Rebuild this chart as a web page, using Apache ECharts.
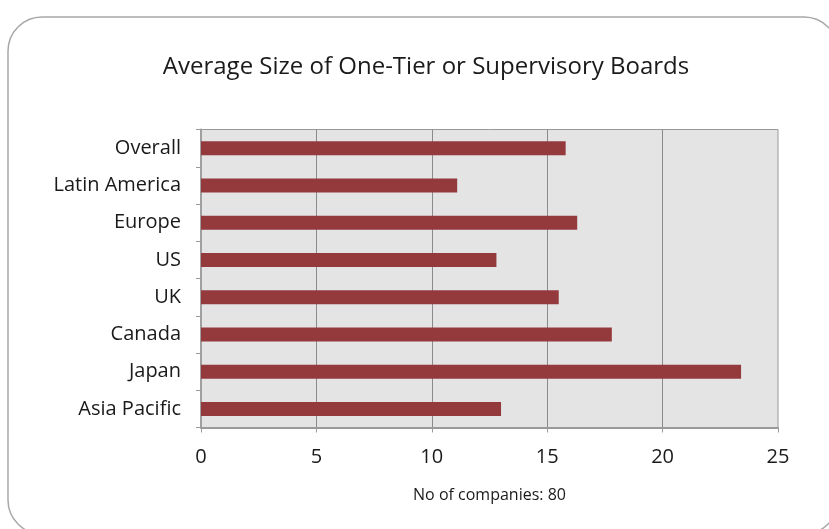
<!DOCTYPE html>
<html>
<head>
<meta charset="utf-8">
<script src="https://cdn.jsdelivr.net/npm/echarts@6/dist/echarts.min.js"></script>
<style>
  html, body { margin: 0; padding: 0; background: #ffffff; }
  #chart { width: 829px; height: 529px; }
</style>
</head>
<body>
<div id="chart"></div>
<script>
// Regions, listed top to bottom
const regions = ['Overall', 'Latin America', 'Europe', 'US', 'UK', 'Canada', 'Japan', 'Asia Pacific'];
// Average number of board members per region
const boardSize = [15.8, 11.1, 16.3, 12.8, 15.5, 17.8, 23.4, 13.0];
// Value axis scale
const axisMin = 0;
const axisMax = 25;
const axisStep = 5;

const chart = echarts.init(document.getElementById('chart'), null, { renderer: 'canvas' });

const labelFont = '"Open Sans", "DejaVu Sans", sans-serif';

chart.setOption({
  backgroundColor: '#ffffff',
  animation: false,
  title: {
    text: 'Average Size of One-Tier or Supervisory Boards',
    left: 421,
    top: 50,
    textAlign: 'center',
    textStyle: {
      fontFamily: labelFont,
      fontWeight: 'normal',
      fontSize: 24,
      color: '#1a1a1a'
    }
  },
  graphic: [{
    type: 'rect',
    shape: { x: 8, y: 17, width: 830, height: 517, r: 34 },
    style: { fill: 'none', stroke: '#a8a8a8', lineWidth: 1.5 },
    z: -1
  }],
  grid: {
    left: 201,
    right: 51,
    top: 129.5,
    bottom: 101.5,
    show: true,
    backgroundColor: '#e4e4e4',
    borderColor: '#999999',
    borderWidth: 1
  },
  xAxis: {
    type: 'value',
    min: axisMin,
    max: axisMax,
    interval: axisStep,
    name: 'No of companies: 80',
    nameLocation: 'middle',
    nameGap: 60,
    nameTextStyle: {
      fontFamily: labelFont,
      fontSize: 16,
      color: '#1a1a1a'
    },
    axisLine: { show: true, lineStyle: { color: '#9a9a9a', width: 2 } },
    axisTick: { show: true, length: 5, lineStyle: { color: '#9a9a9a', width: 1 } },
    axisLabel: {
      margin: 20,
      fontFamily: labelFont,
      fontSize: 20,
      color: '#1a1a1a'
    },
    splitLine: {
      show: true,
      showMinLine: false,
      showMaxLine: false,
      lineStyle: { color: '#8a8a8a', width: 1 }
    }
  },
  yAxis: {
    type: 'category',
    data: regions,
    inverse: true,
    axisLine: { show: true, lineStyle: { color: '#a0a0a0', width: 2 } },
    axisTick: { show: true, length: 5, lineStyle: { color: '#9a9a9a', width: 1 } },
    axisLabel: {
      margin: 20,
      fontFamily: labelFont,
      fontSize: 20,
      color: '#1a1a1a'
    },
    splitLine: { show: false }
  },
  series: [{
    type: 'bar',
    data: boardSize,
    barWidth: 14,
    itemStyle: { color: '#953a3c' }
  }]
});
</script>
</body>
</html>
